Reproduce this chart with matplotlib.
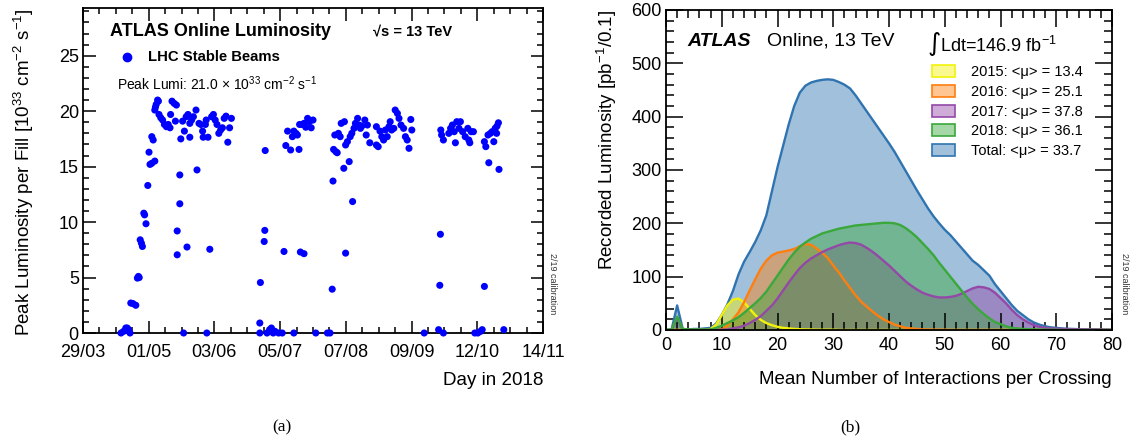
import numpy as np
import matplotlib
matplotlib.use("Agg")
import matplotlib.pyplot as plt
from matplotlib.patches import Patch
from matplotlib.ticker import FixedLocator, MultipleLocator
from matplotlib.colors import to_rgba

plt.rcParams['font.family'] = ['Liberation Sans', 'DejaVu Sans']
plt.rcParams['mathtext.default'] = 'regular'

## (a) peak luminosity per fill in 2018, day of year vs 10^33 cm-2 s-1
fill_day = [107.0, 108.3, 109.4, 110.1, 110.8, 111.5,
            111.9, 113.0, 114.4, 115.2, 115.7, 116.1,
            116.6, 117.2, 117.7, 118.4, 118.8, 119.5, 120.4, 121.0,
            121.5, 122.4, 123.9, 122.4, 123.1,
            123.9, 124.2, 124.6, 125.3, 125.7,
            126.0, 126.9, 127.8, 128.7, 129.7, 130.6, 131.5,
            131.8, 132.5, 133.6, 134.7, 134.2,
            135.1, 135.1, 136.4, 136.4, 136.9,
            137.8, 138.7, 139.6, 140.5, 141.4, 141.4, 142.3, 143.2, 144.5,
            145.0, 140.0, 138.3,
            146.0, 146.9, 147.8, 148.1, 149.2, 149.6, 150.5, 149.9, 151.4,
            152.3, 153.2, 154.1, 155.0, 155.9, 156.8, 157.7, 158.6, 159.5,
            160.4, 161.3, 162.2,
            176.7, 176.4, 176.4, 178.6, 178.9, 179.1,
            180.0, 181.3, 182.2, 183.1, 184.0, 185.8, 187.6, 193.4,
            188.5,
            189.4, 190.3, 191.8, 192.7, 193.4, 194.5, 195.2, 196.0, 196.3,
            196.7, 198.5, 197.6, 198.5, 199.4, 200.3, 201.2, 202.1, 203.0,
            204.4,
            210.2, 211.5,
            212.6, 213.0, 213.3, 214.4, 215.1, 213.9, 215.7, 216.6, 217.1,
            218.4, 218.7, 219.3, 219.3, 220.2, 221.1, 221.6, 222.8, 222.4,
            223.5, 224.2, 225.3, 226.0, 226.7, 227.4, 228.9, 229.6, 230.2,
            231.4, 234.7, 235.6, 234.7, 236.5, 237.4, 238.3, 239.2, 240.1,
            241.0, 241.6, 242.3, 243.4, 244.1, 245.2, 246.0, 247.0, 248.3,
            249.2, 250.1, 251.0, 251.9, 252.4,
            258.6,
            265.8, 266.4, 266.7, 266.9, 267.3, 268.2, 268.2,
            270.9, 271.8, 272.7, 273.6, 274.2, 274.9, 276.0, 276.7, 277.8,
            279.1, 280.4, 280.9, 281.4, 282.1, 283.2,
            283.9, 285.4, 286.8, 287.6,
            288.7, 288.7, 289.4, 290.5, 290.9, 291.7, 292.6, 293.4, 294.1,
            294.8, 295.0, 295.7, 296.0,
            298.4]
peak_lumi = [0.0, 0.15, 0.45, 0.45, 0.3, 0.0,
             2.7, 2.65, 2.5, 4.95, 5.1, 5.0,
             8.4, 8.1, 7.8, 10.8, 10.65, 9.85, 13.3, 16.3,
             15.2, 15.3, 15.5, 17.7, 17.4,
             20.1, 20.35, 20.6, 21.0, 20.9,
             19.7, 19.4, 19.2, 18.8, 18.6, 18.8, 18.5,
             19.7, 20.9, 20.7, 20.55, 19.1,
             9.2, 7.05, 11.65, 14.25, 17.5,
             19.1, 18.2, 19.5, 19.7, 17.65, 18.9, 19.2, 19.5, 20.1,
             14.7, 7.75, 0.0,
             18.9, 18.8, 18.2, 17.65, 18.8, 19.2, 17.65, 0.0, 7.55,
             19.5, 19.7, 19.2, 18.8, 18.0, 18.3, 18.5, 19.35, 19.55,
             17.2, 18.5, 19.35,
             4.55, 0.9, 0.0, 8.25, 9.25, 16.45,
             0.0, 0.3, 0.45, 0.0, 0.15, 0.0, 0.0, 0.0,
             7.35,
             16.9, 18.2, 16.5, 17.7, 18.2, 18.0, 17.85, 16.55, 18.8,
             7.3, 7.15, 18.8, 18.9, 18.55, 19.35, 19.05, 18.5, 19.2,
             0.0,
             0.0, 0.0,
             3.95, 13.7, 16.55, 16.35, 16.25, 17.85, 18.0, 17.7, 18.9,
             14.85, 19.05, 7.2, 16.95, 17.25, 15.45, 17.7, 11.85, 18.0,
             18.45, 18.9, 19.35, 18.75, 18.45, 18.65, 19.2, 17.85, 18.75,
             17.15, 16.95, 16.8, 18.6, 18.2, 17.7, 17.4, 18.3, 17.7,
             18.6, 19.05, 18.3, 18.45, 20.1, 19.8, 19.35, 18.75, 18.45,
             17.7, 17.4, 16.65, 19.25, 18.3,
             0.0,
             0.3, 4.3, 8.9, 18.3, 17.85, 17.4, 0.0,
             18.0, 18.45, 18.75, 18.15, 17.15, 19.05, 18.45, 19.05, 18.15,
             17.7, 18.45, 17.4, 17.15, 18.15, 18.15,
             0.0, 0.0, 0.15, 0.3,
             4.2, 17.25, 16.8, 17.85, 15.35, 18.0, 18.15, 17.25, 18.45,
             18.0, 18.65, 18.95, 14.75,
             0.3]
date_labels = ["29/03", "01/05", "03/06", "05/07", "07/08", "09/09", "12/10", "14/11"]
day_first, day_last = 88, 318

## (b) recorded luminosity vs mean number of interactions per crossing
mu = np.arange(0, 81)
lumi_2015 = [0, 0, 0, 0, 0, 0, 0, 0, 2, 10,
             28, 46, 57, 59, 52, 40, 28, 19, 13, 9,
             6, 4, 3, 2, 1.5, 1, 1, 0.5, 0.5, 0.5,
             0.5, 0, 0, 0, 0, 0, 0, 0, 0, 0,
             0, 0, 0, 0, 0, 0, 0, 0, 0, 0,
             0, 0, 0, 0, 0, 0, 0, 0, 0, 0,
             0, 0, 0, 0, 0, 0, 0, 0, 0, 0,
             0, 0, 0, 0, 0, 0, 0, 0, 0, 0, 0]
lumi_2016 = [0, 0, 0, 0, 0, 0, 0, 0, 0, 0,
             1, 8, 20, 33, 52, 74, 95, 115, 130, 140,
             145, 147, 149, 152, 157, 161, 160, 153, 145, 135,
             121, 108, 93, 79, 65, 53, 44, 35, 27, 20,
             15, 10, 7, 4, 3, 2, 1, 1, 0.5, 0.5,
             0.5, 0, 0, 0, 0, 0, 0, 0, 0, 0,
             0, 0, 0, 0, 0, 0, 0, 0, 0, 0,
             0, 0, 0, 0, 0, 0, 0, 0, 0, 0, 0]
lumi_2017 = [0, 1, 22, 1, 0.5, 0.5, 0.5, 0.5, 0.5, 0.5,
             0.5, 1, 3, 5, 8, 13, 19, 26, 36, 46,
             59, 74, 89, 103, 116, 126, 134, 140, 146, 151,
             155, 159, 162, 164, 163, 160, 154, 147, 139, 130,
             121, 111, 101, 91, 83, 76, 70, 66, 63, 61,
             61, 62, 64, 68, 73, 78, 81, 80, 77, 70,
             60, 50, 38, 28, 20, 14, 9, 6, 4, 3,
             2.5, 2, 2, 1.5, 1.5, 1, 1, 1, 0.8, 0.6, 0.5]
lumi_2018 = [0, 1, 25, 2, 1, 1, 1, 1, 1, 4,
             8, 13, 18, 24, 32, 41, 50, 60, 72, 87,
             102, 117, 132, 145, 156, 164, 171, 176, 181, 184,
             187, 190, 192, 194, 196, 197, 198, 199, 200, 201,
             201, 200, 197, 191, 183, 174, 163, 152, 140, 126,
             113, 100, 87, 74, 61, 49, 39, 30, 22, 15,
             11, 7, 4, 3, 2, 1.5, 1, 1, 0.5, 0.5,
             0.5, 0, 0, 0, 0, 0, 0, 0, 0, 0, 0]
lumi_total = [0, 1, 46, 2, 1, 2, 2, 3, 4, 12,
              28, 48, 73, 104, 128, 146, 165, 187, 215, 260,
              305, 345, 385, 420, 445, 458, 464, 467, 469, 470,
              469, 465, 460, 453, 440, 425, 410, 395, 380, 365,
              350, 334, 316, 298, 280, 262, 245, 228, 213, 200,
              188, 178, 166, 154, 142, 130, 122, 112, 102, 86,
              73, 60, 47, 36, 28, 20, 14, 10, 7, 5,
              4, 3, 2, 2, 1.5, 1, 1, 1, 0.5, 0.5, 0]
series = [("Total: <\u03bc> = 33.7", lumi_total, "#2f74b0"),
          ("2015: <\u03bc> = 13.4", lumi_2015, "#f2f20a"),
          ("2016: <\u03bc> = 25.1", lumi_2016, "#ff7f0e"),
          ("2017: <\u03bc> = 37.8", lumi_2017, "#9448a8"),
          ("2018: <\u03bc> = 36.1", lumi_2018, "#3aa83a")]

fig = plt.figure(figsize=(11.36, 4.41), dpi=100)
W, H = 1136.0, 441.0
ax1 = fig.add_axes([83 / W, (H - 333) / H, 460 / W, 325 / H])
ax2 = fig.add_axes([666 / W, (H - 330) / H, 446 / W, 320 / H])

def root_style(ax, major_len, minor_len, xpad):
    ax.tick_params(which="both", direction="in", top=True, right=True,
                   labelsize=13, width=1.1)
    ax.tick_params(which="major", length=major_len)
    ax.tick_params(which="minor", length=minor_len)
    ax.tick_params(axis="x", pad=xpad)
    ax.tick_params(axis="y", pad=3)
    for sp in ax.spines.values():
        sp.set_linewidth(1.3)

## left: peak lumi
ax1.scatter(fill_day, peak_lumi, s=26, color="#0000ff", edgecolors="none",
            zorder=3, clip_on=False)
ax1.set_xlim(day_first, day_last)
ax1.set_ylim(0, 29.3)
ax1.xaxis.set_major_locator(FixedLocator(np.linspace(day_first, day_last, 8)))
ax1.xaxis.set_minor_locator(FixedLocator(np.linspace(day_first, day_last, 29)))
ax1.set_xticklabels(date_labels)
ax1.yaxis.set_major_locator(MultipleLocator(5))
ax1.yaxis.set_minor_locator(MultipleLocator(1))
root_style(ax1, 9, 4.5, 8)
ax1.set_xlabel("Day in 2018", fontsize=13.5, loc="right", labelpad=8)
ax1.set_ylabel("Peak Luminosity per Fill [10$^{33}$ cm$^{-2}$ s$^{-1}$]",
               fontsize=13.5, loc="top", labelpad=16)

ax1.text(0.059, 0.929, "ATLAS Online Luminosity", transform=ax1.transAxes,
         fontsize=13, fontweight="bold", va="center")
ax1.text(0.630, 0.929, "\u221as = 13 TeV", transform=ax1.transAxes,
         fontsize=10.5, fontweight="bold", va="center")
ax1.plot([0.0946], [0.850], "o", color="#0000ff", ms=6, transform=ax1.transAxes)
ax1.text(0.141, 0.850, "LHC Stable Beams", transform=ax1.transAxes,
         fontsize=10.7, fontweight="bold", va="center")
ax1.text(0.074, 0.766, "Peak Lumi: 21.0 $\\times$ 10$^{33}$ cm$^{-2}$ s$^{-1}$",
         transform=ax1.transAxes, fontsize=10, va="center")

## right: mu distributions
for label, vals, col in series:
    ax2.fill_between(mu, vals, color=col, alpha=0.45, lw=0)
for label, vals, col in series:
    ax2.plot(mu, vals, color=col, lw=1.7)
ax2.set_xlim(0, 80)
ax2.set_ylim(0, 600)
ax2.xaxis.set_major_locator(MultipleLocator(10))
ax2.xaxis.set_minor_locator(MultipleLocator(2))
ax2.yaxis.set_major_locator(MultipleLocator(100))
ax2.yaxis.set_minor_locator(MultipleLocator(20))
root_style(ax2, 12, 6, 5)
ax2.set_xlabel("Mean Number of Interactions per Crossing", fontsize=13.5,
               loc="right", labelpad=12)
ax2.set_ylabel("Recorded Luminosity [pb$^{-1}$/0.1]", fontsize=13.5,
               loc="top", labelpad=9)

ax2.text(0.049, 0.903, "ATLAS", transform=ax2.transAxes, fontsize=14,
         fontweight="bold", style="italic", va="center")
ax2.text(0.226, 0.903, "Online, 13 TeV", transform=ax2.transAxes,
         fontsize=14, va="center")
ax2.text(0.585, 0.895, "$\\int$Ldt=146.9 fb$^{-1}$", transform=ax2.transAxes,
         fontsize=13, va="center")

order = [1, 2, 3, 4, 0]
handles = [Patch(facecolor=to_rgba(series[i][2], 0.45), edgecolor=series[i][2],
                 lw=1.2) for i in order]
labels = [series[i][0] for i in order]
ax2.legend(handles, labels, loc="upper left", bbox_to_anchor=(0.597, 0.828),
           frameon=False, fontsize=10.5, borderaxespad=0, borderpad=0,
           handlelength=1.55, handleheight=0.9, handletextpad=1.1,
           labelspacing=0.39)

for xpix in (552, 1125):
    fig.text(xpix / W, 1 - 284 / H, "2/19 calibration", rotation=-90,
             fontsize=6.5, ha="center", va="center", color="#333333")

fig.text(282 / W, 1 - 427 / H, "(a)", fontsize=12.5, ha="center", va="center",
         family=["Liberation Serif", "DejaVu Serif"])
fig.text(850 / W, 1 - 427 / H, "(b)", fontsize=12.5, ha="center", va="center",
         family=["Liberation Serif", "DejaVu Serif"])

fig.savefig("out.png", dpi=100)
